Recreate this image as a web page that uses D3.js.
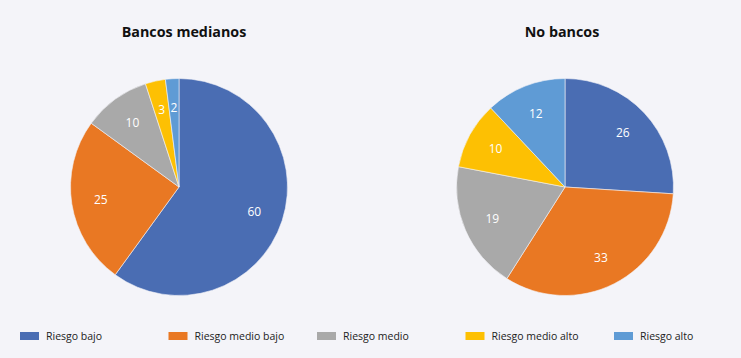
<!DOCTYPE html>
<html>
<head>
<meta charset="utf-8">
<script src="https://cdn.jsdelivr.net/npm/d3@7"></script>
<style>
  html, body { margin: 0; padding: 0; background: #f4f4f9; }
  svg { display: block; }
</style>
</head>
<body>
<svg id="chart"></svg>
<script>
'use strict';

// categories and values
const categories = ['Riesgo bajo', 'Riesgo medio bajo', 'Riesgo medio', 'Riesgo medio alto', 'Riesgo alto'];
const titles = ['Bancos medianos', 'No bancos'];
const bancosMedianos = [60, 25, 10, 3, 2];
const noBancos = [26, 33, 19, 10, 12];
const colors = ['#4a6db3', '#e97823', '#a9a9a9', '#fdc003', '#5f9bd5'];

(function() {
    const width = 741;
    const height = 358;
    const radius = 108.5;
    const centerY = 187;
    const fontFamily = '"Open Sans", "Noto Sans", sans-serif';

    const svg = d3.select('#chart')
                  .attr('width', width)
                  .attr('height', height);

    svg.append('rect')
       .attr('width', width)
       .attr('height', height)
       .attr('fill', '#f4f4f9');

    const color = d3.scaleOrdinal().domain(categories).range(colors);

    // pie centres and title centres for the two charts
    const pieX = d3.scaleOrdinal().domain(titles).range([179, 565]);
    const titleX = d3.scaleOrdinal().domain(titles).range([184, 562]);

    const pie = d3.pie().sort(null).value(d => d.value);
    const arc = d3.arc().innerRadius(0).outerRadius(radius);
    const labelArc = d3.arc().innerRadius(radius * 0.73).outerRadius(radius * 0.73);

    const series = [bancosMedianos, noBancos];

    titles.forEach((title, i) => {
        const rows = categories.map((c, j) => ({ category: c, value: series[i][j] }));

        svg.append('text')
           .attr('x', titleX(title))
           .attr('y', 37)
           .attr('text-anchor', 'middle')
           .attr('font-family', fontFamily)
           .attr('font-weight', 'bold')
           .attr('font-size', 14.3)
           .attr('fill', '#111')
           .text(title);

        const g = svg.append('g')
                     .attr('transform', `translate(${pieX(title)}, ${centerY})`);

        const slices = pie(rows);

        g.selectAll('path')
         .data(slices)
         .enter()
         .append('path')
         .attr('d', arc)
         .attr('fill', d => color(d.data.category))
         .attr('stroke', '#f4f4f9')
         .attr('stroke-width', 0.6);

        g.selectAll('text')
         .data(slices)
         .enter()
         .append('text')
         .attr('transform', d => `translate(${labelArc.centroid(d)})`)
         .attr('text-anchor', 'middle')
         .attr('dy', '0.35em')
         .attr('font-family', fontFamily)
         .attr('font-size', 12)
         .attr('fill', '#ffffff')
         .text(d => d.data.value);
    });

    // Legend
    const legendX = d3.scalePoint().domain(categories).range([14, 608]);
    const legend = svg.append('g')
                      .attr('transform', 'translate(0, 331)');

    const item = legend.selectAll('g')
                       .data(categories)
                       .enter()
                       .append('g')
                       .attr('transform', d => `translate(${legendX(d)}, 0)`);

    item.append('rect')
        .attr('x', 6)
        .attr('y', 1)
        .attr('width', 19)
        .attr('height', 8)
        .attr('fill', d => color(d));

    item.append('text')
        .attr('x', 32)
        .attr('y', 9)
        .attr('font-family', fontFamily)
        .attr('font-size', 10.5)
        .attr('fill', '#222')
        .text(d => d);
})();
</script>
</body>
</html>
